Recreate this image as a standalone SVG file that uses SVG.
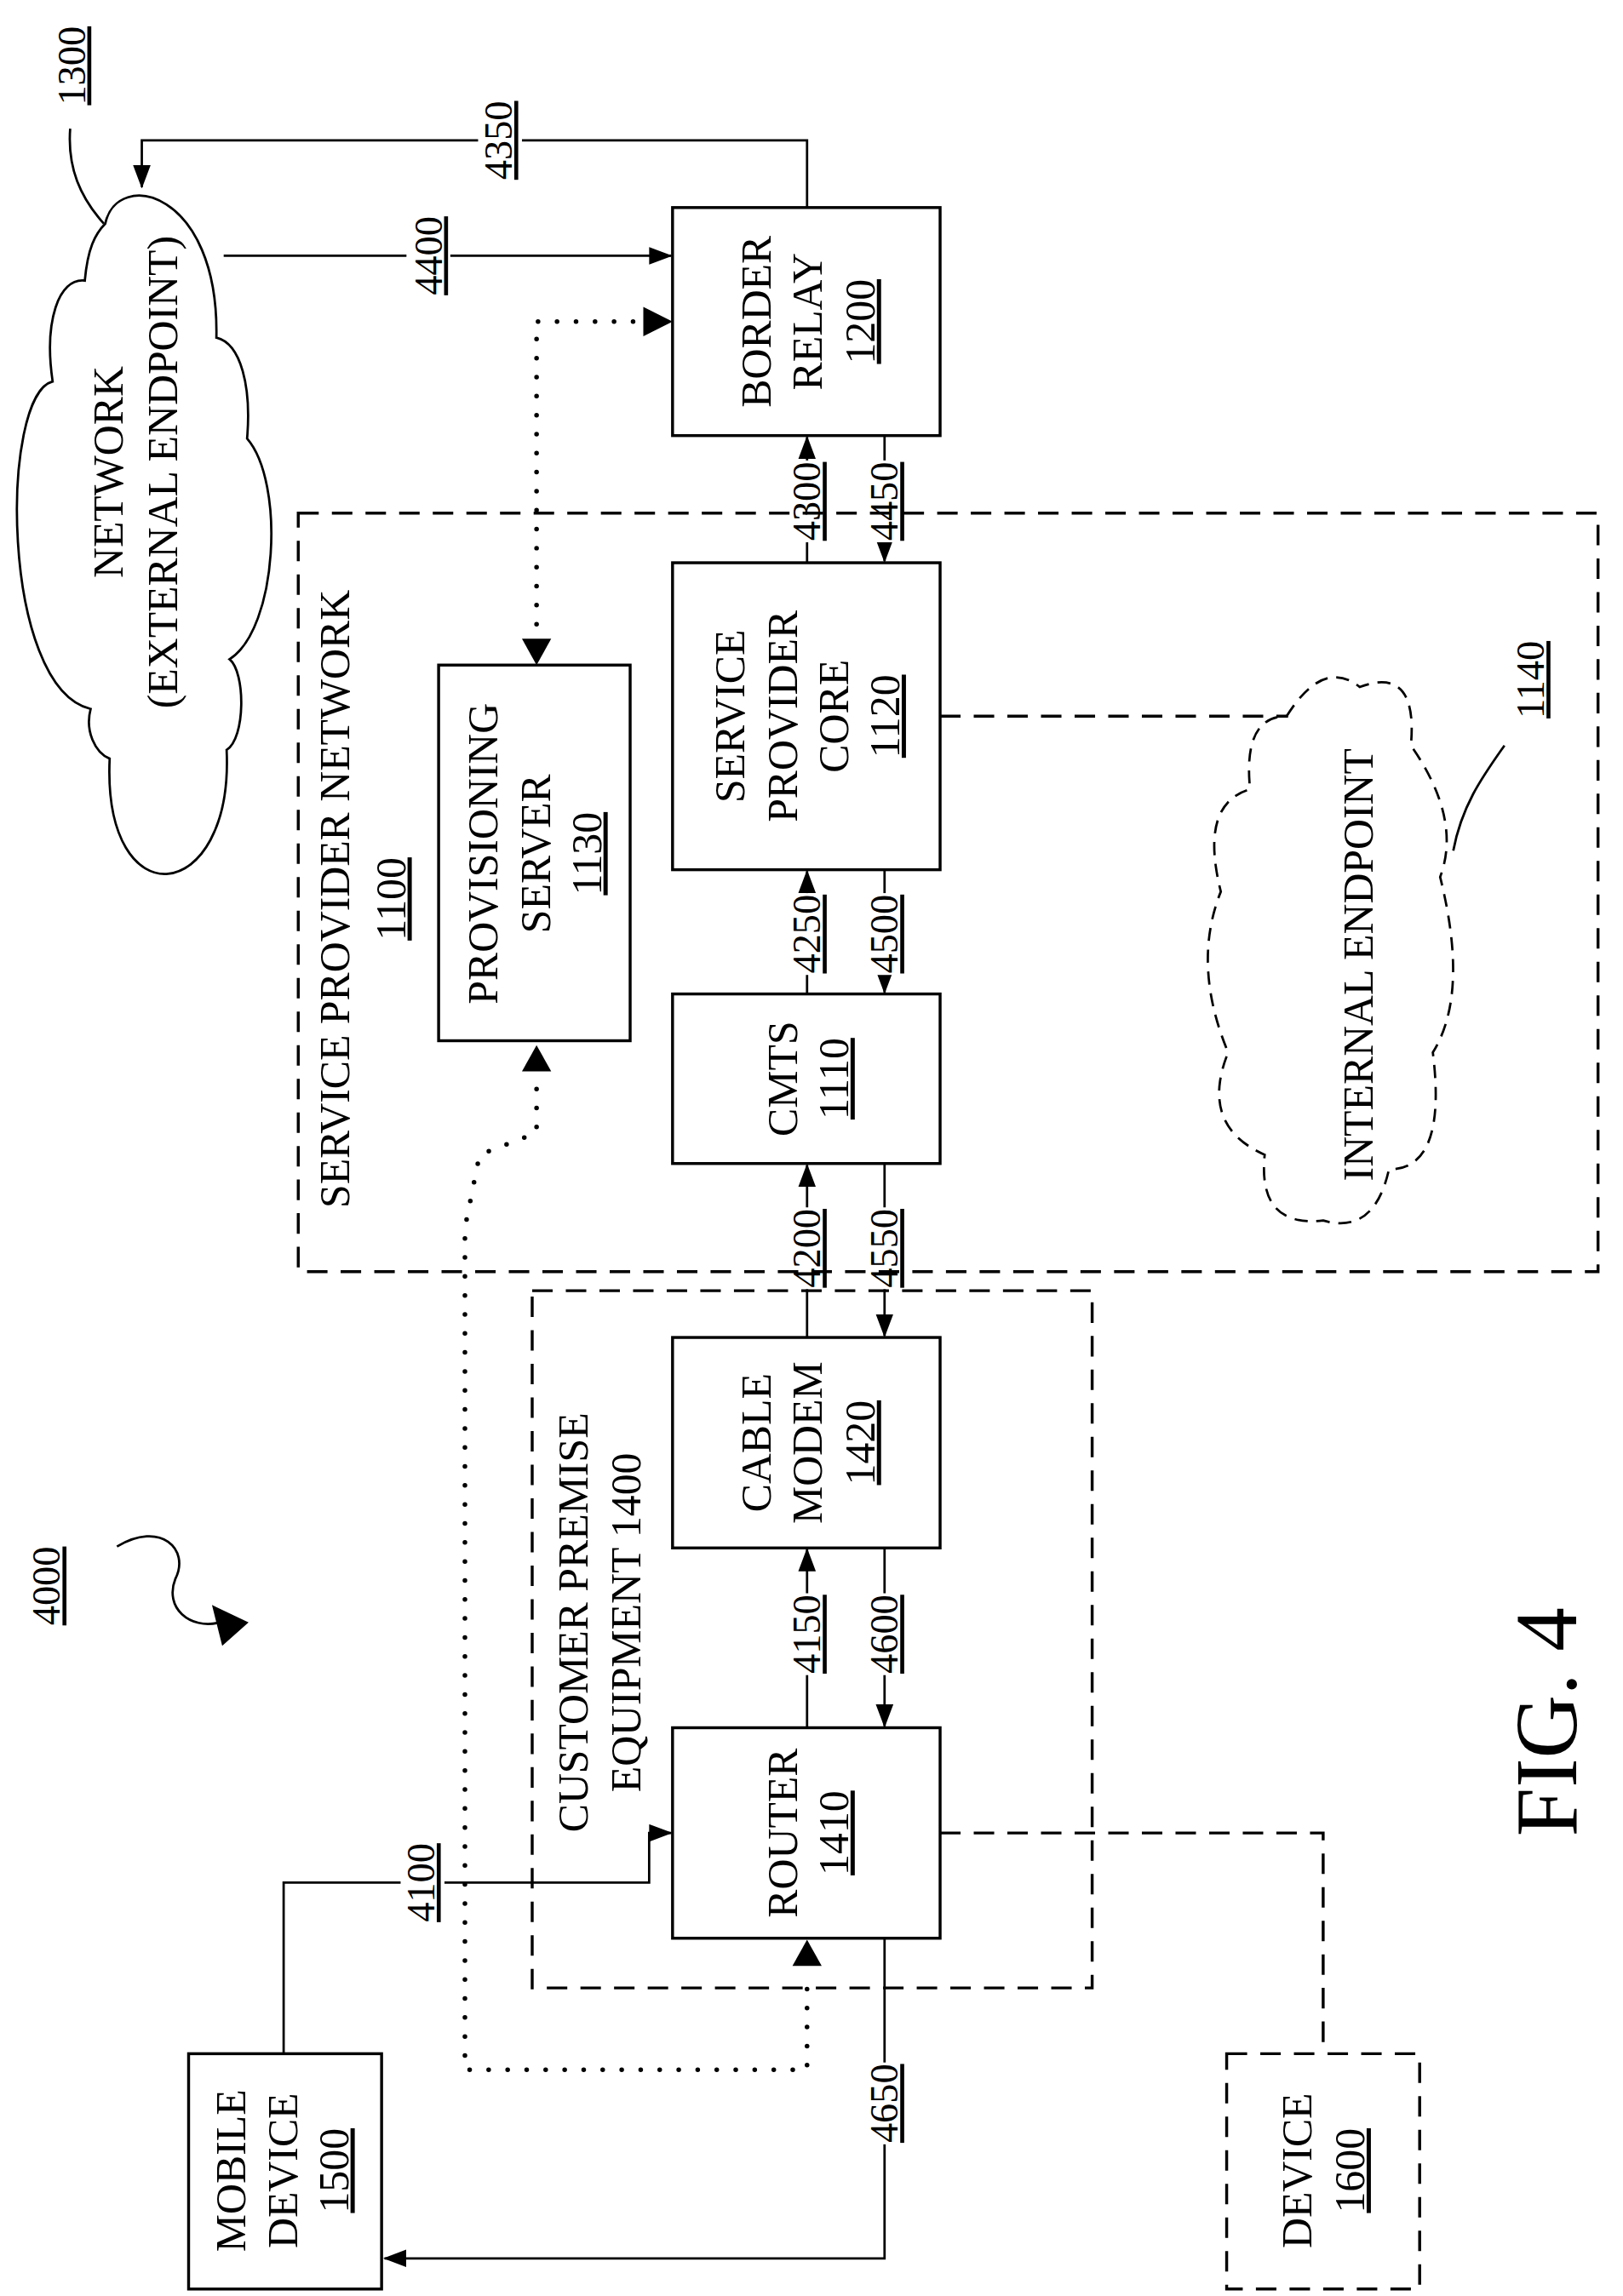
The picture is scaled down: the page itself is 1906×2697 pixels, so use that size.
<svg xmlns="http://www.w3.org/2000/svg" width="1906" height="2697" viewBox="0 0 1906 2697">
<style>
text{font-family:"Liberation Serif","Times New Roman",serif;font-size:29px;fill:#000;text-anchor:middle}
.u{text-decoration:underline}
.n{font-size:27px}
.b{fill:#fff;stroke:#000;stroke-width:2}
.d{fill:none;stroke:#000;stroke-width:2;stroke-dasharray:14 9}
.l{fill:none;stroke:#000;stroke-width:1.6}
.dot{fill:none;stroke:#000;stroke-width:3.2;stroke-linecap:round;stroke-dasharray:0 13}
.w{fill:#fff}
</style>
<defs>
<marker id="a" markerUnits="userSpaceOnUse" markerWidth="16" markerHeight="12" refX="15" refY="6" orient="auto-start-reverse"><path d="M0,0L16,6L0,12Z"/></marker>
</defs>
<rect width="1906" height="2697" fill="#fff"/>
<g transform="scale(1.717)">
<g id="connectors">
<path class="l" d="M552,142V96H97V128" marker-end="url(#a)"/>
<path class="l" d="M153,175H459" marker-end="url(#a)"/>
<path class="dot" d="M367,440V220H440"/>
<path d="M440,210L460,220L440,230Z"/><path d="M357,437L367,455L377,437Z"/>
<path class="l" d="M552,385V299" marker-end="url(#a)"/>
<path class="l" d="M605,298V384" marker-end="url(#a)"/>
<path class="l" d="M552,680V596" marker-end="url(#a)"/>
<path class="l" d="M605,595V679" marker-end="url(#a)"/>
<path class="l" d="M552,915V797" marker-end="url(#a)"/>
<path class="l" d="M605,796V914" marker-end="url(#a)"/>
<path class="l" d="M552,1182V1060" marker-end="url(#a)"/>
<path class="l" d="M605,1059V1181" marker-end="url(#a)"/>
<path class="l" d="M194,1405V1288H444V1254H459" marker-end="url(#a)"/>
<path class="l" d="M605,1326V1545H263" marker-end="url(#a)"/>
<path class="d" d="M643,490H881"/>
<path class="d" d="M643,1254H905V1405"/>
<path class="dot" d="M367,745V775L328,790L318,840V1416H552V1360"/>
<path d="M357,733L367,715L377,733Z"/><path d="M542,1345L552,1327L562,1345Z"/>
<path class="l" d="M71,153C55,135 46,115 48,88"/>
<path class="l" d="M994,582C1000,550 1015,530 1029,510"/>
<path class="l" d="M80,1058C110,1040 130,1060 120,1080C112,1100 130,1115 150,1110"/>
<path d="M145,1098L170,1110L152,1126Z"/>
<rect class="w" x="327" y="80" width="30" height="34"/><text class="u n" transform="rotate(-90 350 96)" x="350" y="96">4350</text>
<rect class="w" x="278" y="150" width="30" height="50"/><text class="u n" transform="rotate(-90 302 175)" x="302" y="175">4400</text>
<rect class="w" x="274" y="1262" width="30" height="52"/><text class="u n" transform="rotate(-90 297 1288)" x="297" y="1288">4100</text>
<rect class="w" x="538" y="315" width="28" height="56"/><text class="u n" transform="rotate(-90 561 343)" x="561" y="343">4300</text>
<rect class="w" x="591" y="315" width="28" height="56"/><text class="u n" transform="rotate(-90 614 343)" x="614" y="343">4450</text>
<rect class="w" x="538" y="611" width="28" height="56"/><text class="u n" transform="rotate(-90 561 639)" x="561" y="639">4250</text>
<rect class="w" x="591" y="611" width="28" height="56"/><text class="u n" transform="rotate(-90 614 639)" x="614" y="639">4500</text>
<rect class="w" x="538" y="826" width="28" height="56"/><text class="u n" transform="rotate(-90 561 854)" x="561" y="854">4200</text>
<rect class="w" x="591" y="826" width="28" height="56"/><text class="u n" transform="rotate(-90 614 854)" x="614" y="854">4550</text>
<rect class="w" x="538" y="1090" width="28" height="56"/><text class="u n" transform="rotate(-90 561 1118)" x="561" y="1118">4150</text>
<rect class="w" x="591" y="1090" width="28" height="56"/><text class="u n" transform="rotate(-90 614 1118)" x="614" y="1118">4600</text>
<rect class="w" x="591" y="1411" width="28" height="56"/><text class="u n" transform="rotate(-90 614 1439)" x="614" y="1439">4650</text>
</g>
<g id="spn"><rect class="d" x="204" y="351" width="889" height="519"/>
<text transform="rotate(-90 239 615)" x="239" y="615">SERVICE PROVIDER NETWORK</text>
<text class="u" transform="rotate(-90 277 615)" x="277" y="615">1100</text></g>
<g id="cpe"><rect class="d" x="364" y="883" width="383" height="477"/>
<text transform="rotate(-90 402 1110)" x="402" y="1110">CUSTOMER PREMISE</text>
<text transform="rotate(-90 438 1110)" x="438" y="1110">EQUIPMENT 1400</text></g>
<g id="n1300"><path class="l" d="M72,153C80,115 150,130 148,231C165,235 172,265 169,300C195,330 190,430 157,451C168,460 168,505 155,513C160,620 70,630 75,519C65,515 58,500 62,485C0,470 0,270 36,261C30,220 40,190 58,192C60,170 65,160 72,153Z"/>
<text transform="rotate(-90 84 323)" x="84" y="323">NETWORK</text>
<text transform="rotate(-90 121 323)" x="121" y="323">(EXTERNAL ENDPOINT)</text>
<text class="u n" transform="rotate(-90 58 45)" x="58" y="45">1300</text></g>
<g id="n1200"><rect class="b" x="460" y="142" width="183" height="156"/>
<text transform="rotate(-90 527 220)" x="527" y="220">BORDER</text>
<text transform="rotate(-90 562 220)" x="562" y="220">RELAY</text>
<text class="u" transform="rotate(-90 598 220)" x="598" y="220">1200</text></g>
<g id="n1130"><rect class="b" x="300" y="455" width="131" height="257"/>
<text transform="rotate(-90 340 584)" x="340" y="584">PROVISIONING</text>
<text transform="rotate(-90 376 584)" x="376" y="584">SERVER</text>
<text class="u" transform="rotate(-90 411 584)" x="411" y="584">1130</text></g>
<g id="n1120"><rect class="b" x="460" y="385" width="183" height="210"/>
<text transform="rotate(-90 509 490)" x="509" y="490">SERVICE</text>
<text transform="rotate(-90 545 490)" x="545" y="490">PROVIDER</text>
<text transform="rotate(-90 580 490)" x="580" y="490">CORE</text>
<text class="u" transform="rotate(-90 615 490)" x="615" y="490">1120</text></g>
<g id="n1110"><rect class="b" x="460" y="680" width="183" height="116"/>
<text transform="rotate(-90 545 738)" x="545" y="738">CMTS</text>
<text class="u" transform="rotate(-90 580 738)" x="580" y="738">1110</text></g>
<g id="n1140"><path class="d" style="stroke-width:1.6;stroke-dasharray:9 6" d="M880,490Q905,450 930,470Q970,455 965,510Q1000,560 985,600Q1005,680 980,720Q990,800 950,800Q940,845 905,835Q860,840 865,790Q820,770 840,720Q815,660 835,610Q820,550 855,540Q850,490 880,490Z"/>
<text transform="rotate(-90 939 660)" x="939" y="660">INTERNAL ENDPOINT</text>
<text class="u n" transform="rotate(-90 1056 465)" x="1056" y="465">1140</text></g>
<g id="n1420"><rect class="b" x="460" y="915" width="183" height="144"/>
<text transform="rotate(-90 527 987)" x="527" y="987">CABLE</text>
<text transform="rotate(-90 562 987)" x="562" y="987">MODEM</text>
<text class="u" transform="rotate(-90 598 987)" x="598" y="987">1420</text></g>
<g id="n1410"><rect class="b" x="460" y="1182" width="183" height="144"/>
<text transform="rotate(-90 545 1254)" x="545" y="1254">ROUTER</text>
<text class="u" transform="rotate(-90 580 1254)" x="580" y="1254">1410</text></g>
<g id="n1500"><rect class="b" x="129" y="1405" width="132" height="161"/>
<text transform="rotate(-90 168 1485)" x="168" y="1485">MOBILE</text>
<text transform="rotate(-90 203 1485)" x="203" y="1485">DEVICE</text>
<text class="u" transform="rotate(-90 238 1485)" x="238" y="1485">1500</text></g>
<g id="n1600"><rect class="d" x="839" y="1405" width="132" height="161"/>
<text transform="rotate(-90 897 1485)" x="897" y="1485">DEVICE</text>
<text class="u" transform="rotate(-90 933 1485)" x="933" y="1485">1600</text></g>
<text class="u n" transform="rotate(-90 41 1085)" x="41" y="1085">4000</text>
<text style="font-size:60px" transform="rotate(-90 1078 1178)" x="1078" y="1178">FIG. 4</text>
</g>
</svg>
